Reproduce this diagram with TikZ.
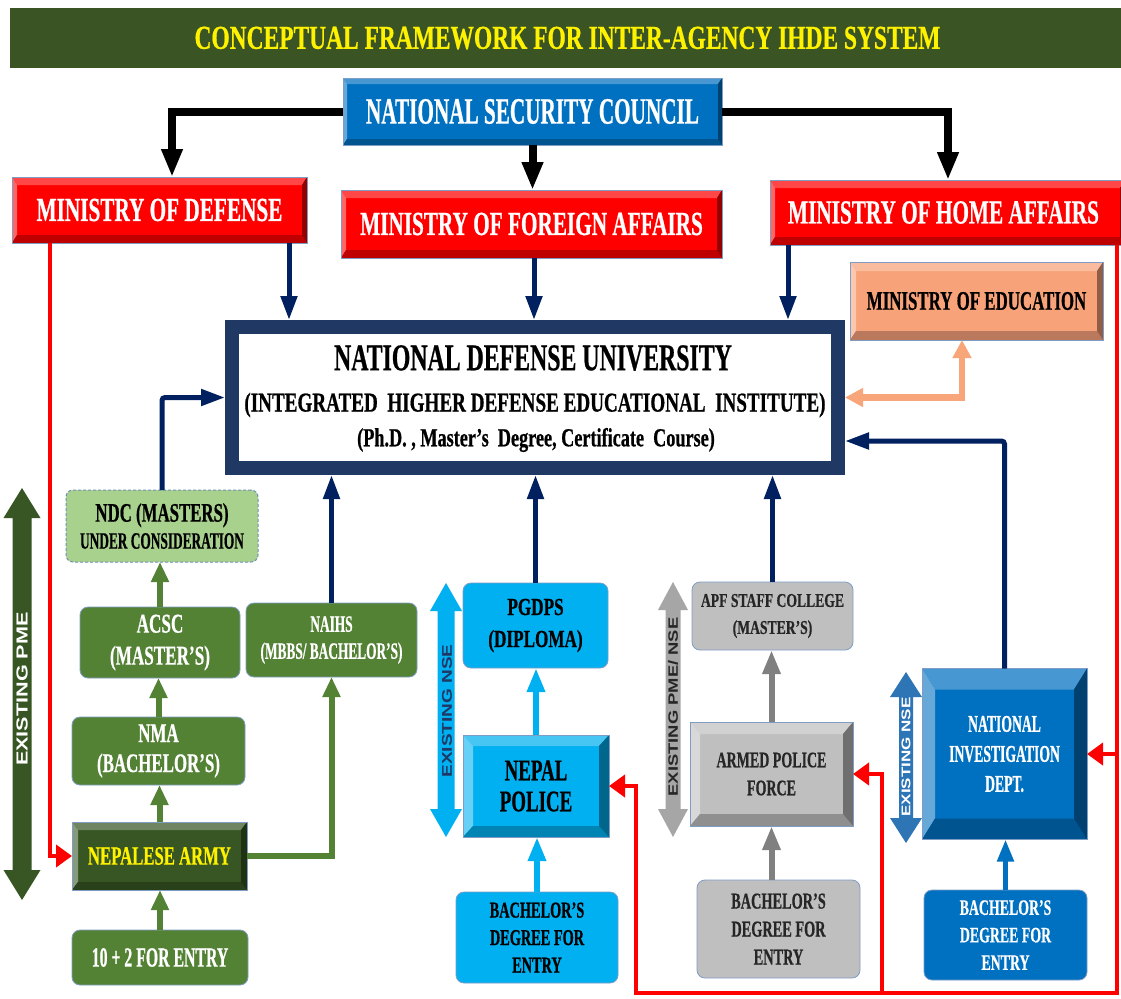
\documentclass[tikz,border=0pt]{standalone}
\usepackage{fontspec}
\setmainfont{Liberation Serif}
\newfontfamily\cndS[FakeStretch=0.57, BoldFeatures={FakeBold=0.6}]{Liberation Serif}
\newfontfamily\cnd[FakeStretch=0.63, BoldFeatures={FakeBold=0.6}]{Liberation Serif}
\newfontfamily\cndW[FakeStretch=0.70, BoldFeatures={FakeBold=0.6}]{Liberation Serif}
\newfontfamily\lblf[FakeStretch=1.35]{Liberation Sans}
\usetikzlibrary{arrows.meta}
\definecolor{titleg}{HTML}{3A5424}
\definecolor{nscb}{HTML}{0070C0}
\definecolor{mred}{HTML}{FF0000}
\definecolor{moec}{HTML}{F8A27A}
\definecolor{ndun}{HTML}{203864}
\definecolor{navyc}{HTML}{002060}
\definecolor{boxg}{HTML}{548235}
\definecolor{armyg}{HTML}{375623}
\definecolor{ndcg}{HTML}{A9D18E}
\definecolor{ndce}{HTML}{6F8FB5}
\definecolor{lblue}{HTML}{00B0F0}
\definecolor{greyb}{HTML}{BFBFBF}
\definecolor{nidb}{HTML}{0070C0}
\definecolor{greya}{HTML}{808080}
\definecolor{apfa}{HTML}{A6A6A6}
\definecolor{nida}{HTML}{2E75B6}
\definecolor{edgec}{HTML}{7F9CC4}
\definecolor{orangec}{HTML}{F8A57A}
\definecolor{darkt}{HTML}{262626}
\newcommand\fs[2]{\fontsize{#1}{#2}\selectfont}
\newcommand\dblarr[7]{%
  \fill[#7] (#1,#2) -- (#1+#5,#2+#6) -- (#1+#4,#2+#6) -- (#1+#4,#3-#6) -- (#1+#5,#3-#6) -- (#1,#3)
   -- (#1-#5,#3-#6) -- (#1-#4,#3-#6) -- (#1-#4,#2+#6) -- (#1-#5,#2+#6) -- cycle;}
\tikzset{
  base/.style={inner sep=0pt, outer sep=0pt, align=center},
  bev/.style n args={3}{base, fill=#1, draw=edgec, line width=0.8pt, path picture={
    \fill[#1!72!white] (path picture bounding box.north west) -- (path picture bounding box.north east)
      -- ([shift={(-#2,-#3)}]path picture bounding box.north east) -- ([shift={(#2,-#3)}]path picture bounding box.north west) -- cycle;
    \fill[#1!60!white] (path picture bounding box.north west) -- ([shift={(#2,-#3)}]path picture bounding box.north west)
      -- ([shift={(#2,#3)}]path picture bounding box.south west) -- (path picture bounding box.south west) -- cycle;
    \fill[#1!75!black] (path picture bounding box.south west) -- ([shift={(#2,#3)}]path picture bounding box.south west)
      -- ([shift={(-#2,#3)}]path picture bounding box.south east) -- (path picture bounding box.south east) -- cycle;
    \fill[#1!58!black] (path picture bounding box.south east) -- ([shift={(-#2,#3)}]path picture bounding box.south east)
      -- ([shift={(-#2,-#3)}]path picture bounding box.north east) -- (path picture bounding box.north east) -- cycle;
  }},
  rbox/.style={base, fill=#1, draw=edgec, line width=0.8pt, rounded corners=8pt},
  blk/.style={draw=black, line width=8pt, -{Triangle[width=20pt,length=28pt]}},
  nv/.style={draw=navyc, line width=5pt, rounded corners=3pt, -{Triangle[width=16pt,length=24pt]}},
  grn/.style={draw=boxg, line width=6pt, -{Triangle[width=17pt,length=20pt]}},
  lbl/.style={draw=lblue, line width=6.5pt, -{Triangle[width=17pt,length=24pt]}},
  gya/.style={draw=greya, line width=6pt, -{Triangle[width=17pt,length=24pt]}},
  nba/.style={draw=nidb, line width=5pt, -{Triangle[width=16pt,length=22pt]}},
  rl/.style={draw=mred, line width=4.5pt, -{Triangle[width=22pt,length=16pt]}},
  orl/.style={draw=orangec, line width=6.5pt, {Triangle[width=18pt,length=18pt]}-{Triangle[width=18pt,length=18pt]}},
}
\begin{document}
\begin{tikzpicture}[x=1pt,y=-1pt]
\fill[white] (0,0) rectangle (1121,998);
\useasboundingbox (0,0) rectangle (1121,998);

% ---------- nodes ----------
\node[base, fill=titleg, minimum width=1115, minimum height=60, font=\cndW\bfseries\fs{33.5}{36}, text=yellow] (title) at (567.5,38) {CONCEPTUAL FRAMEWORK FOR INTER-AGENCY IHDE SYSTEM};

\node[bev={nscb}{4pt}{6pt}, minimum width=379, minimum height=67, font=\cndS\bfseries\fs{37.2}{40}, text=white] (nsc) at (532.5,111.5) {NATIONAL SECURITY COUNCIL};

\node[bev={mred}{5pt}{8pt}, minimum width=295, minimum height=66, font=\cnd\bfseries\fs{33.7}{36}, text=white] (mod) at (159.5,210) {MINISTRY OF DEFENSE};
\node[bev={mred}{5pt}{8pt}, minimum width=381, minimum height=68, font=\cnd\bfseries\fs{33.7}{36}, text=white] (mofa) at (531.5,224) {MINISTRY OF FOREIGN AFFAIRS};
\node[bev={mred}{5pt}{8pt}, minimum width=355, minimum height=65, font=\cnd\bfseries\fs{33.7}{36}, text=white] (moha) at (947.5,212.5) {\hspace*{-8pt}MINISTRY OF HOME AFFAIRS};
\node[bev={moec}{6pt}{9pt}, minimum width=253, minimum height=78, font=\cnd\bfseries\fs{26.8}{30}, text=black] (moe) at (976.5,301) {MINISTRY OF EDUCATION};

\node[base, draw=ndun, line width=14pt, outer sep=7pt, fill=white, minimum width=606, minimum height=141] (ndu) at (535,397.5) {};
\node[base, font=\cnd\bfseries\fs{37.8}{40}] (ndut1) at (533,358) {NATIONAL DEFENSE UNIVERSITY};
\node[base, font=\cndW\bfseries\fs{27.3}{30}] (ndut2) at (535,405) {(INTEGRATED\ \ HIGHER DEFENSE EDUCATIONAL\ \ INSTITUTE)};
\node[base, font=\cndW\bfseries\fs{26}{30}] (ndut3) at (536,440) {(Ph.D. , Master’s\ \ Degree, Certificate\ \ Course)};

\node[base, rounded corners=7pt, fill=ndcg, draw=ndce, densely dashed, line width=1pt, minimum width=192, minimum height=72, font=\cnd\bfseries\fs{26.7}{27}] (ndc) at (162,526) {NDC (MASTERS)\\{\cndS\fs{23.4}{27}UNDER CONSIDERATION}};
\node[rbox=boxg, minimum width=160, minimum height=71, font=\cnd\bfseries\fs{27.2}{32}, text=white] (acsc) at (160,642.5) {ACSC\\(MASTER’S)};
\node[rbox=boxg, minimum width=171, minimum height=74, font=\cndS\bfseries\fs{23.4}{27}, text=white] (naihs) at (331.5,640) {NAIHS\\(MBBS/ BACHELOR’S)};
\node[rbox=boxg, minimum width=173, minimum height=68, font=\cnd\bfseries\fs{26.8}{30}, text=white] (nma) at (158.5,751) {NMA\\(BACHELOR’S)};
\node[bev={armyg}{6pt}{8pt}, minimum width=175, minimum height=68, font=\cnd\bfseries\fs{26.5}{30}, text=yellow] (army) at (159.5,856) {NEPALESE ARMY};
\node[rbox=boxg, minimum width=176, minimum height=55, font=\cndS\bfseries\fs{27.7}{30}, text=white] (tenp) at (160,957.5) {10 + 2 FOR ENTRY};

\node[rbox=lblue, minimum width=145, minimum height=85, font=\cndW\bfseries\fs{24.5}{32}, text=black] (pgdps) at (535.5,625.5) {PGDPS\\(DIPLOMA)};
\node[bev={lblue}{10pt}{11pt}, minimum width=146, minimum height=102, font=\cnd\bfseries\fs{30}{31}, text=black] (police) at (536,786) {NEPAL\\POLICE};
\node[rbox=lblue, minimum width=162, minimum height=91, font=\cnd\bfseries\fs{22.7}{27.5}, text=black] (polbach) at (537,937.5) {BACHELOR’S\\DEGREE FOR\\ENTRY};

\node[rbox=greyb, minimum width=161, minimum height=68, font=\cndW\bfseries\fs{19.5}{27}, text=darkt] (apfsc) at (772.5,616) {APF STAFF COLLEGE\\(MASTER’S)};
\node[bev={greyb}{10pt}{12pt}, minimum width=163, minimum height=104, font=\cnd\bfseries\fs{22.2}{28}, text=darkt] (apf) at (771.5,774) {ARMED POLICE\\FORCE};
\node[rbox=greyb, minimum width=163, minimum height=98, font=\cnd\bfseries\fs{22.7}{28}, text=darkt] (apfbach) at (778.5,929) {BACHELOR’S\\DEGREE FOR\\ENTRY};

\node[bev={nidb}{13pt}{21pt}, minimum width=165, minimum height=171, font=\cndS\bfseries\fs{24}{30}, text=white] (nid) at (1004.5,754) {NATIONAL\\INVESTIGATION\\DEPT.};
\node[rbox=nidb, minimum width=163, minimum height=90, font=\cnd\bfseries\fs{22}{27.5}, text=white] (nidbach) at (1005.5,935) {BACHELOR’S\\DEGREE FOR\\ENTRY};

% ---------- double arrows with labels ----------
\dblarr{22}{488}{900}{9.5}{18.5}{30}{armyg}
\node[base, rotate=90, font=\lblf\bfseries\fs{16}{16}, text=white] (pmelbl) at (22,689) {EXISTING PME};
\dblarr{446}{583}{837}{8.5}{16}{28}{lblue}
\node[base, rotate=90, font=\lblf\bfseries\fs{14.1}{14}, text=ndun] (nselbl) at (447,711) {EXISTING NSE};
\dblarr{673}{582}{837}{7.5}{15}{28}{apfa}
\node[base, rotate=90, font=\lblf\bfseries\fs{13.6}{14}, text=darkt] (apflbl) at (673,707) {EXISTING PME/ NSE};
\dblarr{906}{672}{843}{7}{16}{25}{nida}
\node[base, rotate=90, font=\lblf\bfseries\fs{12.6}{12}, text=white] (nidlbl) at (906,757) {EXISTING NSE};

% ---------- helper coordinates ----------
\coordinate (c172) at (172,0);
\coordinate (c948) at (948,0);
\coordinate (c289) at (289,0);
\coordinate (c534) at (534,0);
\coordinate (c788) at (788,0);
\coordinate (c50) at (50,0);
\coordinate (c962) at (962,0);
\coordinate (y441) at (0,441);
\coordinate (cR) at (1117,0);
\coordinate (cB) at (0,993);
\coordinate (cL) at (636,0);
\coordinate (cM) at (882,0);

% ---------- connectors ----------
\draw[blk] (nsc.west) -| (c172 |- mod.north);
\draw[blk] (nsc.east) -| (c948 |- moha.north);
\draw[blk] (nsc.south) -- (nsc.south |- mofa.north);

\draw[nv] (mod.south -| c289) -- (ndu.north -| c289);
\draw[nv] (mofa.south -| c534) -- (ndu.north -| c534);
\draw[nv] (moha.south -| c788) -- (ndu.north -| c788);
\draw[nv] (ndc.north) |- (ndu.west);
\draw[nv] (naihs.north) -- (ndu.south -| naihs.north);
\draw[nv] (pgdps.north) -- (ndu.south -| pgdps.north);
\draw[nv] (apfsc.north) -- (ndu.south -| apfsc.north);
\draw[nv] (nid.north) |- (ndu.east |- y441);

\draw[orl] (ndu.east) -| (moe.south -| c962);

\draw[grn] (tenp.north) -- (tenp.north |- army.south);
\draw[grn] (army.north) -- (army.north |- nma.south);
\draw[grn] (nma.north) -- (nma.north |- acsc.south);
\draw[grn] (acsc.north) -- (acsc.north |- ndc.south);
\draw[grn] (army.east) -| (naihs.south);

\draw[lbl] (polbach.north) -- (polbach.north |- police.south);
\draw[lbl] (police.north) -- (police.north |- pgdps.south);
\draw[gya] (apf.south |- apfbach.north) -- (apf.south);
\draw[gya] (apf.north) -- (apf.north |- apfsc.south);
\draw[nba] (nidbach.north) -- (nidbach.north |- nid.south);

\draw[rl] (mod.south -| c50) |- (army.west);
\draw[rl] (moha.south -| cR) -- (cR |- cB) -- (cL |- cB) |- (police.east);
\draw[rl] (cR |- nid.east) -- (nid.east);
\draw[rl] (cM |- cB) |- (apf.east);
\end{tikzpicture}
\end{document}
